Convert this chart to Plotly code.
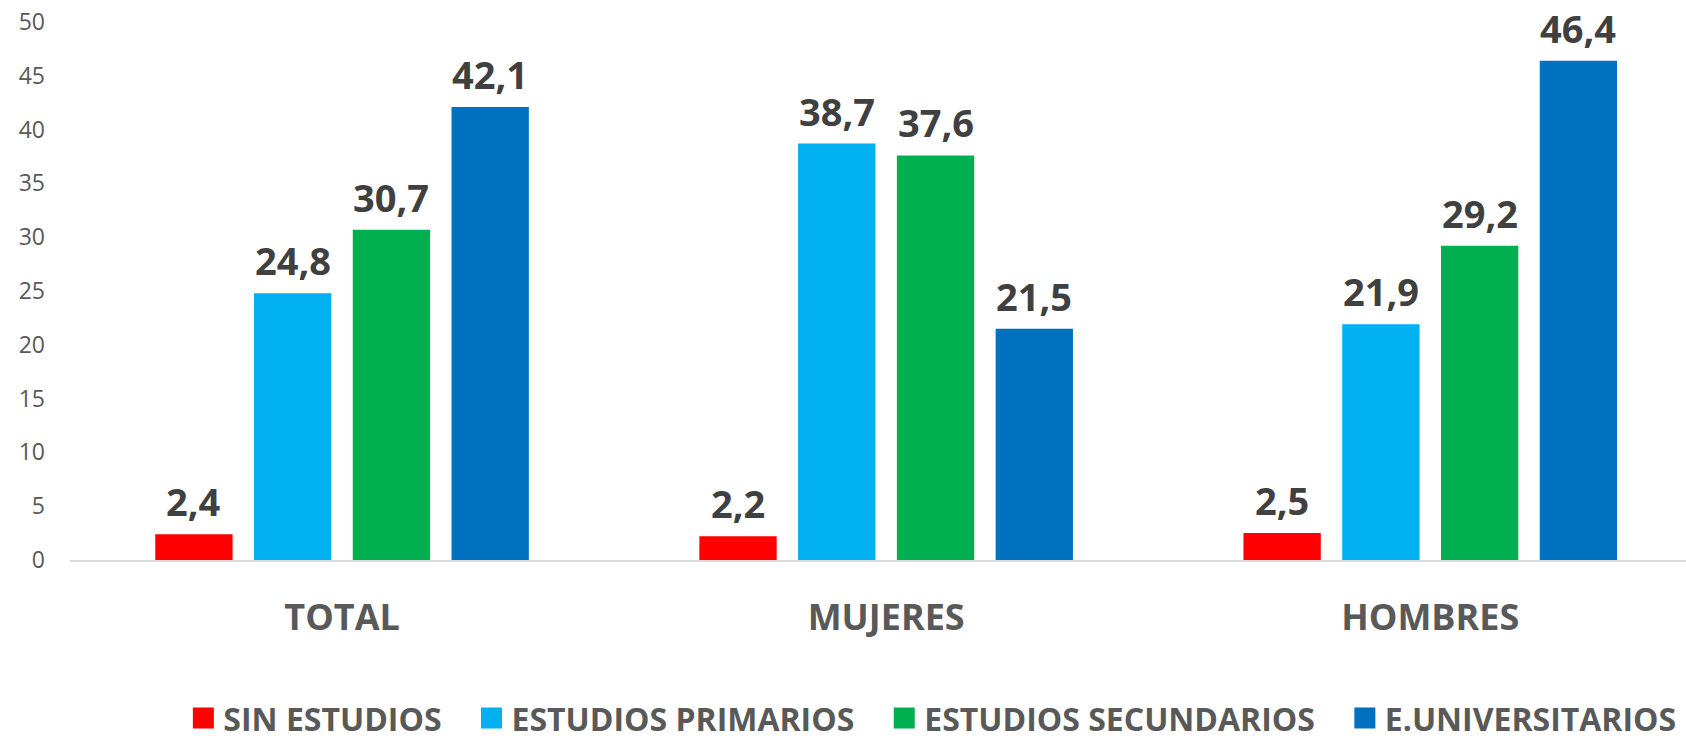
import plotly.graph_objects as go

# Chart data
categories = ["TOTAL", "MUJERES", "HOMBRES"]
series_names = ["SIN ESTUDIOS", "ESTUDIOS PRIMARIOS", "ESTUDIOS SECUNDARIOS", "E.UNIVERSITARIOS"]
sin_estudios = [2.4, 2.2, 2.5]
primarios = [24.8, 38.7, 21.9]
secundarios = [30.7, 37.6, 29.2]
universitarios = [42.1, 21.5, 46.4]
y_ticks = [0, 5, 10, 15, 20, 25, 30, 35, 40, 45, 50]

series_values = [sin_estudios, primarios, secundarios, universitarios]
colors = ["#FF0000", "#00B0F0", "#00B050", "#0070C0"]

FONT = "Open Sans"
BARGAP = 0.274
BARGROUPGAP = 0.217

x_pos = list(range(len(categories)))

fig = go.Figure()
for name, vals, col in zip(series_names, series_values, colors):
    fig.add_trace(go.Bar(
        name=name,
        x=x_pos,
        y=vals,
        marker_color=col,
        marker_line_width=0,
        showlegend=False,
    ))

# Legend-only entries (bigger square swatches than the bar legend icon)
for k, (name, col) in enumerate(zip(series_names, colors)):
    pad = "\u00a0" * 3 if k < len(series_names) - 1 else ""
    fig.add_trace(go.Scatter(
        name=name + pad,
        x=[None], y=[None],
        mode="markers",
        marker=dict(symbol="square", size=16, color=col,
                    line=dict(width=5, color=col)),
        hoverinfo="skip",
    ))

# Data labels above each bar, in its slot of the group
slot = (1 - BARGAP) / len(series_names)
for j, vals in enumerate(series_values):
    offset = (j - (len(series_names) - 1) / 2) * slot
    for i, v in enumerate(vals):
        fig.add_annotation(
            x=x_pos[i] + offset, y=v, xref="x", yref="y",
            text=f"{v:.1f}".replace(".", ","),
            showarrow=False, yanchor="bottom", yshift=5,
            font=dict(family=FONT, size=38, color="#404040", weight="bold"),
        )

fig.update_layout(
    barmode="group",
    bargap=BARGAP,
    bargroupgap=BARGROUPGAP,
    width=1686,
    height=739,
    margin=dict(l=70, r=0, t=21.5, b=178.5),
    plot_bgcolor="white",
    paper_bgcolor="white",
    font=dict(family=FONT, color="#595959"),
    xaxis=dict(
        range=[-0.5, 2.47],
        tickvals=x_pos,
        ticktext=categories,
        tickfont=dict(family=FONT, size=36, color="#595959", weight="bold"),
        showline=True,
        linecolor="#D9D9D9",
        linewidth=2,
        showgrid=False,
        zeroline=False,
        ticks="",
        ticklabelstandoff=25,
        fixedrange=True,
    ),
    yaxis=dict(
        range=[0, 50],
        tickvals=y_ticks,
        tickfont=dict(family=FONT, size=23, color="#595959"),
        showgrid=False,
        zeroline=False,
        ticks="",
        ticklabelstandoff=24,
        fixedrange=True,
    ),
    showlegend=True,
    legend=dict(
        orientation="h",
        xref="container",
        yref="container",
        x=0.553,
        xanchor="center",
        y=0.028,
        yanchor="middle",
        font=dict(family=FONT, size=32, color="#595959", weight="bold"),
        itemclick=False,
        itemdoubleclick=False,
    ),
)

# page body has an 8px default margin; remove it so the chart fills the window
fig.write_html("out.html", config={"displayModeBar": False},
               post_script="document.body.style.margin='0';")
